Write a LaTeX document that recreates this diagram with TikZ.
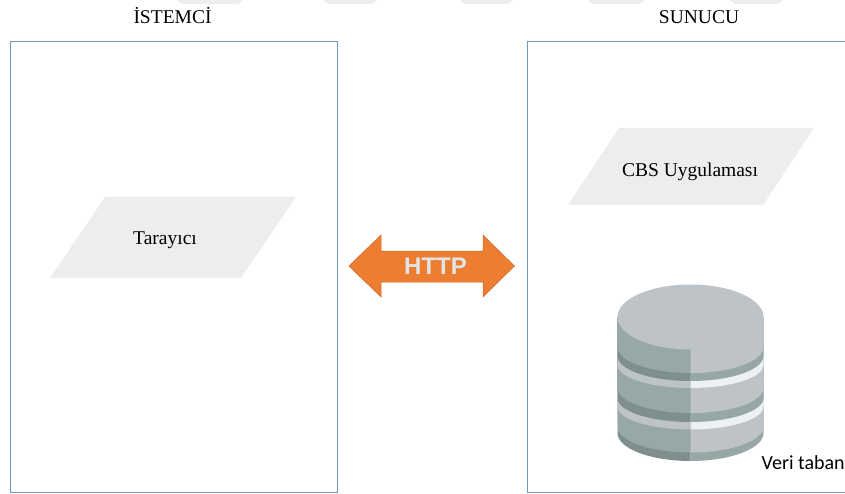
\documentclass[tikz,border=0pt]{standalone}
\usepackage{fontspec}
\setmainfont{Liberation Serif}
\usepackage{xcolor}
\usepackage{tikz}
\definecolor{panelblue}{HTML}{6F97BF}
\definecolor{slantgray}{HTML}{EDEDED}
\definecolor{arroworange}{HTML}{ED7D31}
\definecolor{dbtop}{HTML}{BEC3C7}
\definecolor{dbdark}{HTML}{98A8A6}
\definecolor{dbband}{HTML}{7F8F8E}
\definecolor{dbbandr}{HTML}{97A7A6}
\definecolor{dbpale}{HTML}{EDF1F2}
\newfontfamily\labelsans{Carlito}
\newfontfamily\httpsans{Liberation Sans}
\begin{document}
\begin{tikzpicture}[x=1pt,y=-1pt,
panel/.style={draw=panelblue,line width=0.9pt},
serifbase/.style={anchor=base,font=\fontsize{19.5}{22}\selectfont}]
\useasboundingbox (0,0) rectangle (845,494);
% faint marks along the top edge
\foreach \xa/\xb in {177/243,323/377,460/513,588/645,730/783}
  \fill[slantgray] (\xa,0) -- (\xb,0) -- (\xb-5,4) -- (\xa+5,4) -- cycle;
\node[serifbase] (istemci) at (172.5,24) {İSTEMCİ};
\node[serifbase] (sunucu) at (699,24) {SUNUCU};
\draw[panel] (10,41) rectangle (337,492);
\draw[panel] (845,41) -- (527,41) -- (527,492) -- (845,492);
% parallelograms
\fill[slantgray] (105,197) -- (296,197) -- (241,278) -- (50,278) -- cycle;
\node[serifbase] (tarayici) at (165,244) {Tarayıcı};
\fill[slantgray] (619,128) -- (814,128) -- (763,205) -- (568,205) -- cycle;
\node[serifbase] (cbs) at (690,177) {CBS Uygulaması};
% double arrow
\fill[arroworange,draw=arroworange!85!black,line width=0.5pt] (349,266) -- (381,235) -- (381,251) -- (483,251) -- (483,235) -- (514.5,266) -- (483,297) -- (483,282) -- (381,282) -- (381,297) -- cycle;
\node[anchor=base,text=dbtop!45!white,font=\httpsans\bfseries\fontsize{24}{26}\selectfont] (http) at (435.5,274) {HTTP};
% database, painted from the bottom layer upwards
\foreach \edge/\depth/\lcol/\rcol in {433/28/dbband/dbbandr,426.5/26/dbdark/dbtop,406.5/23/dbtop/dbpale,398/24/dbband/dbbandr,388/25/dbdark/dbtop,365/23/dbtop/dbpale,356/25/dbband/dbbandr,347/26/dbdark/dbtop}{
  \fill[\lcol] (690.5,317) -- (617.5,317) -- (617.5,\edge) arc[start angle=180,end angle=90,x radius=73,y radius=\depth] -- cycle;
  \fill[\rcol] (690.5,317) -- (763.5,317) -- (763.5,\edge) arc[start angle=0,end angle=90,x radius=73,y radius=\depth] -- cycle;
}
\fill[dbtop] (690.5,317) ellipse[x radius=73,y radius=32.5];
\node[anchor=base west,inner sep=0pt,font=\labelsans\fontsize{20}{22}\selectfont] (veri) at (761.5,469) {Veri tabanı};
\end{tikzpicture}
\end{document}
